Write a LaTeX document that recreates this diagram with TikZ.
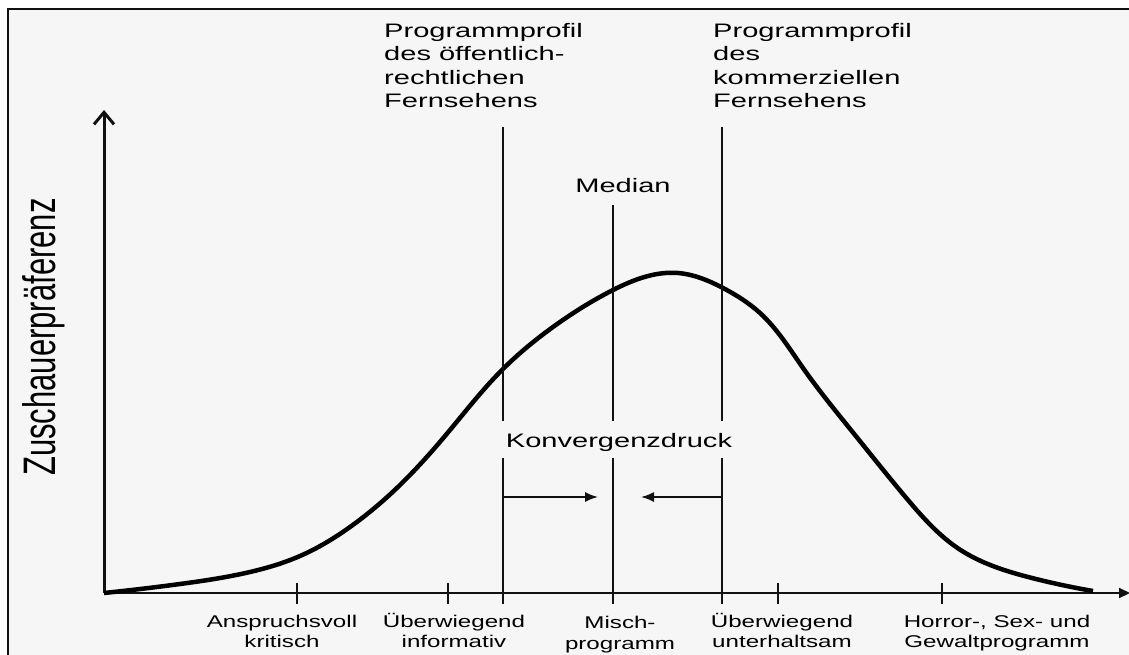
\documentclass[tikz,border=0pt]{standalone}
\usepackage{fontspec}
\usepackage{graphicx}
\setmainfont{Liberation Sans}
\usetikzlibrary{arrows.meta,hobby}
\definecolor{bg}{HTML}{F6F6F6}
\definecolor{ink}{HTML}{111111}
\newcommand\topfont{\fontsize{19.5}{23.5}\selectfont}
\newcommand\botfont{\fontsize{17}{20.5}\selectfont}
\newcommand\wideL[1]{\scalebox{1.49}[1]{\begin{tabular}{@{}l@{}}#1\end{tabular}}}
\newcommand\wideC[1]{\scalebox{1.42}[1]{\begin{tabular}{@{}c@{}}#1\end{tabular}}}
\tikzset{
  axisline/.style={line width=2pt, draw=ink},
  yaxisline/.style={line width=3pt, draw=ink},
  profline/.style={line width=2pt, draw=ink},
  tickline/.style={line width=2pt, draw=ink},
  curveline/.style={line width=4.5pt, draw=black, line join=round, line cap=butt},
  toplabel/.style={anchor=north west, inner sep=0pt, font=\topfont},
  botlabel/.style={anchor=north, inner sep=0pt, font=\botfont},
  pusharrow/.style={line width=1.6pt, draw=ink, -{Latex[length=13pt,width=10pt]}},
}
\begin{document}
\begin{tikzpicture}[x=1pt,y=-1pt]
\useasboundingbox (0,0) rectangle (1129,655);
\fill[white] (0,0) rectangle (1129,655);
\begin{scope}
\clip (0,0) rectangle (1129,655);
\draw[line width=2.5pt, draw=ink, fill=bg] (8,9) rectangle (1150,680);
\end{scope}

% axes
\coordinate (O) at (104,593);
\coordinate (Ytop) at (104,110);
\coordinate (Xend) at (1130,593);
\draw[yaxisline, -{Straight Barb[length=12pt,width=20pt]}] (O) -- (Ytop);
\draw[axisline, -{Triangle[length=11pt,width=10pt]}] (O) -- (Xend);

% y label
\node[rotate=90, inner sep=0pt] (ylab) at (44,337)
  {\fontsize{31}{34}\selectfont\scalebox{1}[1.47]{Zuschauerpräferenz}};

% curve
\draw[curveline, use Hobby shortcut] (104,593) .. (180,584) .. (250,572)
  .. (300,556) .. (350,527) .. (400,485) .. (450,430) .. (500,372)
  .. (560,322) .. (613,290) .. (678,273) .. (723,288) .. (760,313)
  .. (803,368) .. (855,435) .. (908,500) .. (959,549) .. (1032,578)
  .. (1093,591);

% vertical profile lines
\coordinate (oeTop) at (503,127);
\coordinate (oeBot) at (503,604);
\coordinate (meTop) at (613,205);
\coordinate (meBot) at (613,604);
\coordinate (koTop) at (722,127);
\coordinate (koBot) at (722,604);
\draw[profline] (oeTop) -- (oeBot);
\draw[profline] (meTop) -- (meBot);
\draw[profline] (koTop) -- (koBot);
% Konvergenzdruck label (covers the vertical lines)
\node[fill=bg, anchor=base, inner xsep=7pt, inner ysep=0pt, text height=26pt, text depth=11pt, font=\topfont] (konv) at (619,447)
  {\scalebox{1.49}[1]{Konvergenzdruck}};

% convergence arrows
\coordinate (aL) at (503,497);
\coordinate (aLtip) at (598,497);
\coordinate (aR) at (722,497);
\coordinate (aRtip) at (641,497);
\draw[pusharrow] (aL) -- (aLtip);
\draw[pusharrow] (aR) -- (aRtip);

% ticks
\foreach \t/\x in {t1/297, t2/448, t3/778, t4/942}{
  \coordinate (\t a) at (\x,583);
  \coordinate (\t b) at (\x,604);
  \draw[tickline] (\t a) -- (\t b);
}

% top labels
\node[toplabel] (oeLab) at (384,20.5) {\wideL{Programmprofil\\des öffentlich-\\rechtlichen\\Fernsehens}};
\node[toplabel] (koLab) at (713,20.5) {\wideL{Programmprofil\\des\\kommerziellen\\Fernsehens}};
\node[anchor=base, inner sep=0pt, font=\topfont] (median) at (623,193) {\scalebox{1.49}[1]{Median}};

% bottom labels
\node[botlabel] (b1) at (282,612.6) {\wideC{Anspruchsvoll\\kritisch}};
\node[botlabel] (b2) at (454,612.6) {\wideC{Überwiegend\\informativ}};
\node[botlabel] (b3) at (620,614) {\wideC{Misch-\\programm}};
\node[botlabel] (b4) at (782,612.6) {\wideC{Überwiegend\\unterhaltsam}};
\node[botlabel] (b5) at (997,612.6) {\wideC{Horror-, Sex- und\\Gewaltprogramm}};
\end{tikzpicture}
\end{document}
